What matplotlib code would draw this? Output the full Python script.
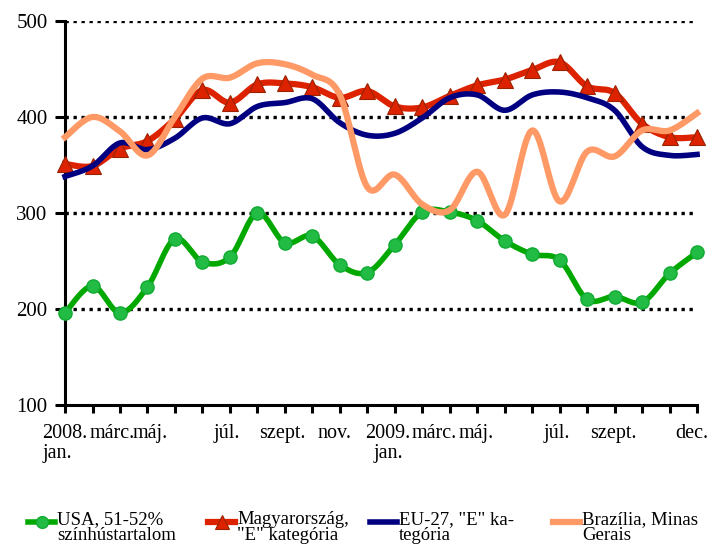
import numpy as np
import matplotlib
matplotlib.use("Agg")
import matplotlib.pyplot as plt
from matplotlib.lines import Line2D

plt.rcParams['font.family'] = ['Liberation Serif', 'DejaVu Serif']

# monthly prices, 2008 jan .. 2009 dec
months = list(range(24))
usa = [196, 224, 196, 223, 273, 249, 254, 300, 269, 276, 246, 238,
       267, 301, 301, 292, 271, 257, 251, 210, 213, 207, 237, 259]
hungary = [351, 349, 367, 375, 398, 428, 415, 434, 435, 431, 420, 427,
           411, 410, 422, 433, 439, 449, 457, 432, 425, 393, 379, 379]
eu27 = [338, 349, 373, 366, 378, 399, 393, 411, 415, 419, 394, 381,
        383, 399, 420, 423, 407, 423, 426, 420, 407, 369, 360, 361]
brazil = [379, 400, 385, 360, 400, 440, 441, 456, 455, 444, 423, 327,
          340, 309, 303, 343, 298, 386, 312, 364, 359, 386, 386, 404]

tick_labels = ["2008.\njan.", "márc.", "máj.", "júl.", "szept.", "nov.",
               "2009.\njan.", "márc.", "máj.", "júl.", "szept.", "dec."]
label_pos = [0, 1.72, 3.1, 5.9, 7.9, 9.8, 11.75, 13.45, 14.95, 17.9, 19.95, 22.8]

series_names = ["USA, 51-52%\nszínhústartalom",
                "Magyarország,\n\"E\" kategória",
                "EU-27, \"E\" ka-\ntegória",
                "Brazília, Minas\nGerais"]


def smooth(x, y, n=20):
    # Catmull-Rom like Excel's smoothed line
    x = np.asarray(x, float)
    y = np.asarray(y, float)
    px = np.concatenate([[x[0]], x, [x[-1]]])
    py = np.concatenate([[y[0]], y, [y[-1]]])
    xs, ys = [], []
    t = np.linspace(0, 1, n, endpoint=False)
    for i in range(1, len(px) - 2):
        p0, p1, p2, p3 = px[i - 1], px[i], px[i + 1], px[i + 2]
        q0, q1, q2, q3 = py[i - 1], py[i], py[i + 1], py[i + 2]
        c1x, c1y = p1 + (p2 - p0) / 6, q1 + (q2 - q0) / 6
        c2x, c2y = p2 - (p3 - p1) / 6, q2 - (q3 - q1) / 6
        b = [(1 - t) ** 3, 3 * (1 - t) ** 2 * t, 3 * (1 - t) * t ** 2, t ** 3]
        xs.append(b[0] * p1 + b[1] * c1x + b[2] * c2x + b[3] * p2)
        ys.append(b[0] * q1 + b[1] * c1y + b[2] * c2y + b[3] * q2)
    xs.append([x[-1]])
    ys.append([y[-1]])
    return np.concatenate(xs), np.concatenate(ys)


fig = plt.figure(figsize=(7.17, 5.44), dpi=100)
ax = fig.add_axes([0.0907, 0.2555, 0.8815, 0.7059])

for yv in [200, 300, 400, 500]:
    ax.axhline(yv, color='black', lw=2.4, ls=(0, (1, 1.4)), zorder=1)

green, red, navy, orange = '#00A800', '#DD2200', '#000080', '#FF9966'
styles = [
    dict(color=green, lw=4),
    dict(color=red, lw=4.5),
    dict(color=navy, lw=4),
    dict(color=orange, lw=4.5),
]
markers = [
    dict(marker='o', ms=9.5, mfc='#22BB44', mec='#11AA33', mew=1),
    dict(marker='^', ms=11, mfc=red, mec='#992200', mew=0.8),
    None,
    None,
]

z = 3
for vals, st, mk in zip([usa, hungary, eu27, brazil], styles, markers):
    sx, sy = smooth(months, vals)
    ax.plot(sx, sy, zorder=z, clip_on=False, **st)
    if mk:
        ax.plot(months, vals, ls='none', zorder=z + 1, clip_on=False, **mk)
    z += 2

ax.set_xlim(0, 23)
ax.set_ylim(100, 500)
ax.set_yticks([100, 200, 300, 400, 500])
ax.set_xticks(months)
ax.set_xticklabels([])
ax.tick_params(axis='y', direction='out', length=7.5, width=2.2, labelsize=15, pad=5)
ax.tick_params(axis='x', direction='out', length=6, width=2.2)
for s in ['top', 'right']:
    ax.spines[s].set_visible(False)
for s in ['left', 'bottom']:
    ax.spines[s].set_linewidth(2.2)

for lab, xp in zip(tick_labels, label_pos):
    ma = 'left' if lab.startswith('2008') else 'center'
    ax.text(xp, 80, lab, ha='center', va='top', fontsize=14.5,
            multialignment=ma, linespacing=1.05)

# legend drawn by hand: handle sits on the first text line, like the reference
legend_x = [28, 208, 370, 553]
W, H = 717, 544
ly = 1 - 522 / H
for name, st, mk, lx in zip(series_names, styles, markers, legend_x):
    fig.add_artist(Line2D([lx / W, (lx + 27) / W], [ly, ly],
                          transform=fig.transFigure, **st))
    if mk:
        m = dict(mk)
        m['ms'] = m['ms'] - 1
        fig.add_artist(Line2D([(lx + 13.5) / W], [ly], ls='none',
                              transform=fig.transFigure, **m))
    fig.text((lx + 29) / W, 1 - 511 / H, name, ha='left', va='top',
             fontsize=13.5, linespacing=0.95)

fig.savefig('out.png', dpi=100, facecolor='white')
